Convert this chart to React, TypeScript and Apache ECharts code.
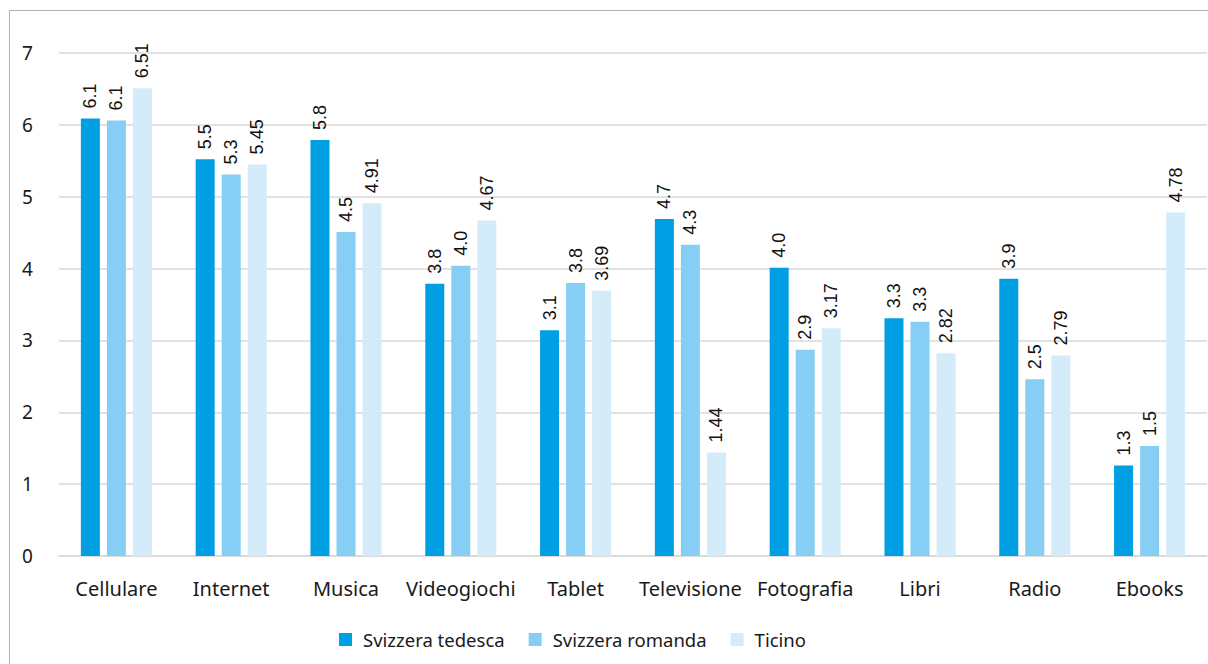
import React, { useEffect, useRef } from "react";
import * as echarts from "echarts";

const categories = ["Cellulare", "Internet", "Musica", "Videogiochi", "Tablet", "Televisione", "Fotografia", "Libri", "Radio", "Ebooks"];
const seriesNames = ["Svizzera tedesca", "Svizzera romanda", "Ticino"];
const tedesca = [6.09, 5.52, 5.79, 3.79, 3.14, 4.69, 4.01, 3.31, 3.86, 1.26];
const romanda = [6.06, 5.31, 4.51, 4.04, 3.8, 4.33, 2.87, 3.26, 2.46, 1.53];
const ticino = [6.51, 5.45, 4.91, 4.67, 3.69, 1.44, 3.17, 2.82, 2.79, 4.78];
const colors = ["#009fe3", "#86cef4", "#d4ebfa"];
const decimals = [1, 1, 2];
const yTicks = [0, 1, 2, 3, 4, 5, 6, 7];

export default function App() {
  const ref = useRef<HTMLDivElement>(null);
  useEffect(() => {
    if (!ref.current) return;
    const chart = echarts.init(ref.current, undefined, { renderer: "svg" });
    const data = [tedesca, romanda, ticino];
    chart.setOption({
      animation: false,
      textStyle: { fontFamily: "Noto Sans" },
      graphic: [
        {
          type: "rect",
          shape: { x: 9.5, y: 10.5, width: 1400, height: 1000 },
          style: { fill: "none", stroke: "#b0b0b0", lineWidth: 1 },
          silent: true,
        },
      ],
      grid: { left: 59, right: 1, top: 53, bottom: 108, containLabel: false },
      legend: {
        bottom: 10,
        left: 334,
        itemWidth: 13,
        itemHeight: 13,
        itemGap: 24,
        icon: "rect",
        textStyle: { fontSize: 18.5, color: "#1a1a1a", fontFamily: "Noto Sans", padding: [0, 0, 0, 6] },
        data: seriesNames,
      },
      xAxis: {
        type: "category",
        data: categories,
        axisLine: { show: true, lineStyle: { color: "#d9d9d9", width: 1.5 } },
        axisTick: { show: false },
        axisLabel: { fontSize: 20, color: "#1a1a1a", margin: 22, interval: 0, fontFamily: "Noto Sans" },
      },
      yAxis: {
        type: "value",
        min: yTicks[0],
        max: yTicks[yTicks.length - 1],
        interval: 1,
        axisLine: { show: false },
        axisTick: { show: false },
        splitLine: { lineStyle: { color: "#d9d9d9", width: 1.5 } },
        axisLabel: { fontSize: 19, color: "#1a1a1a", margin: 37, align: "left", fontFamily: "Noto Sans" },
      },
      series: seriesNames.map((name, i) => ({
        name,
        type: "bar",
        data: data[i],
        barWidth: 19,
        barGap: "37%",
        itemStyle: { color: colors[i] },
        label: {
          show: true,
          position: "top",
          rotate: 90,
          align: "left",
          verticalAlign: "middle",
          distance: 10,
          fontSize: 18,
          color: "#111",
          fontFamily: "Liberation Sans",
          formatter: (p: any) => Number(p.value).toFixed(decimals[i]),
        },
      })),
    });
    return () => chart.dispose();
  }, []);
  return <div ref={ref} style={{ position: "fixed", left: 0, top: 0, width: 1208, height: 664, background: "#fff" }} />;
}
